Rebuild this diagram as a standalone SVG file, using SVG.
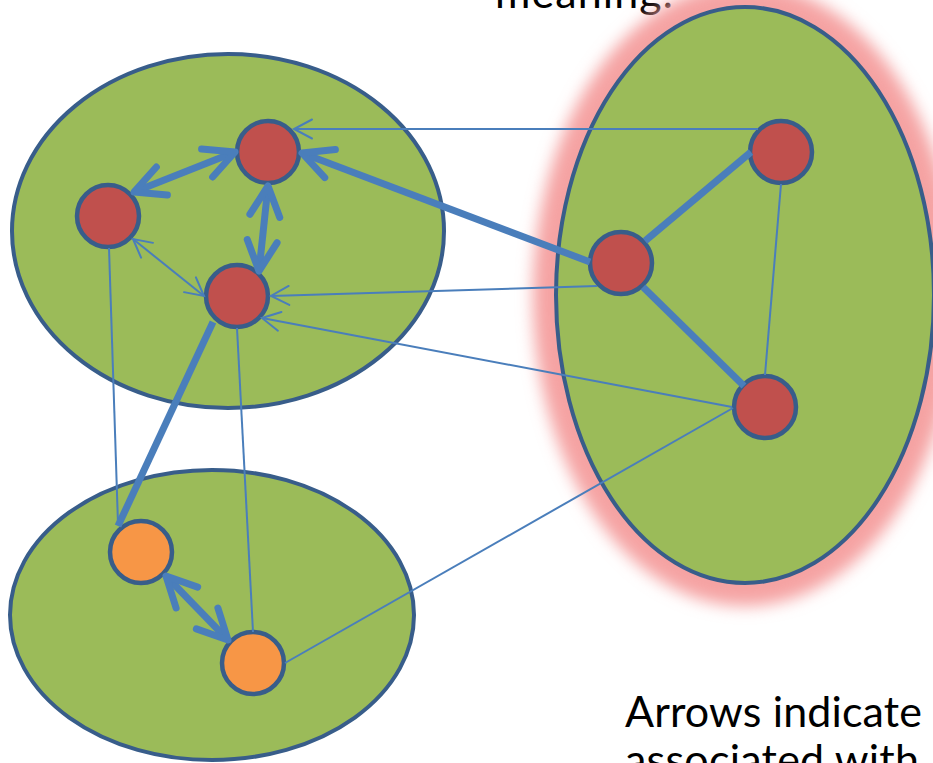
<svg xmlns="http://www.w3.org/2000/svg" width="933" height="763" viewBox="0 0 933 763">
<style>
.cluster{fill:#9BBB59;stroke:#385D8A;stroke-width:4}
.red{fill:#C0504D;stroke:#385D8A;stroke-width:4.5}
.orange{fill:#F79646;stroke:#385D8A;stroke-width:4.5}
.thin{stroke:#4A7EBB;stroke-width:2;fill:none}
.thick{stroke:#4A7EBB;stroke-width:7;fill:none}
.label{font-family:Lato,"Open Sans","Liberation Sans",sans-serif;font-size:43px;fill:#000}
</style>
<defs>
<filter id="glow" x="-30%" y="-30%" width="160%" height="160%">
<feGaussianBlur stdDeviation="8"/>
</filter>
<marker id="ahThin" markerUnits="userSpaceOnUse" markerWidth="40" markerHeight="40" refX="20" refY="15" orient="auto-start-reverse" overflow="visible">
<path d="M2,5.5 L20,15 L2,24.5" fill="none" stroke="#4A7EBB" stroke-width="2" stroke-linecap="round"/>
</marker>
<marker id="ahThick" markerUnits="userSpaceOnUse" markerWidth="50" markerHeight="50" refX="31" refY="16" orient="auto-start-reverse" overflow="visible">
<path d="M1,1 L31,16 L1,31" fill="none" stroke="#4A7EBB" stroke-width="7" stroke-linecap="round" stroke-linejoin="round"/>
</marker>
</defs>
<rect width="933" height="763" fill="#FFFFFF"/>
<g id="texts">
<text class="label" x="495" y="7.5" textLength="178">meaning.</text>
<text class="label" x="625" y="727" textLength="297">Arrows indicate</text>
<text class="label" x="625" y="775" textLength="294">associated with</text>
</g>
<g id="cluster-right">
<ellipse cx="745" cy="295" rx="189" ry="288" fill="none" stroke="#F5A3A3" stroke-width="46" filter="url(#glow)"/>
<ellipse class="cluster" cx="745" cy="295" rx="189" ry="288"/>
</g>
<g id="cluster-topleft">
<ellipse class="cluster" cx="228" cy="231" rx="216" ry="177"/>
</g>
<g id="cluster-bottom">
<ellipse class="cluster" cx="212" cy="615" rx="202" ry="145"/>
</g>
<g id="node-n1"><circle class="red" cx="268" cy="152" r="31"/></g>
<g id="node-n2"><circle class="red" cx="108" cy="216" r="31"/></g>
<g id="node-n3"><circle class="red" cx="237" cy="296" r="31"/></g>
<g id="node-r1"><circle class="red" cx="781" cy="152" r="31"/></g>
<g id="node-r2"><circle class="red" cx="621" cy="263" r="31"/></g>
<g id="node-r3"><circle class="red" cx="765" cy="407" r="31"/></g>
<g id="node-o1"><circle class="orange" cx="141" cy="552" r="31"/></g>
<g id="node-o2"><circle class="orange" cx="253" cy="663" r="31"/></g>
<g id="connectors">
<line class="thin" x1="758" y1="129" x2="294" y2="129" marker-end="url(#ahThin)"/>
<line class="thick" x1="590" y1="262" x2="302" y2="153" marker-end="url(#ahThick)"/>
<line class="thin" x1="597" y1="286" x2="271" y2="296" marker-end="url(#ahThin)"/>
<line class="thin" x1="732" y1="407" x2="262" y2="318" marker-end="url(#ahThin)"/>
<line class="thin" x1="133" y1="239" x2="204" y2="296" marker-start="url(#ahThin)" marker-end="url(#ahThin)"/>
<line class="thick" x1="235" y1="152" x2="134" y2="192" marker-start="url(#ahThick)" marker-end="url(#ahThick)"/>
<line class="thick" x1="268" y1="186" x2="259" y2="271" marker-start="url(#ahThick)" marker-end="url(#ahThick)"/>
<line class="thin" x1="109" y1="248" x2="118" y2="524"/>
<line class="thick" x1="213" y1="322" x2="118" y2="526"/>
<line class="thin" x1="237" y1="328" x2="253" y2="632"/>
<line class="thick" x1="166" y1="576" x2="228" y2="640" marker-start="url(#ahThick)" marker-end="url(#ahThick)"/>
<line class="thin" x1="285" y1="663" x2="733" y2="408"/>
<line class="thick" x1="645" y1="241" x2="751" y2="152"/>
<line class="thick" x1="643" y1="287" x2="744" y2="386"/>
<line class="thin" x1="781" y1="184" x2="765" y2="375"/>
</g>
</svg>
